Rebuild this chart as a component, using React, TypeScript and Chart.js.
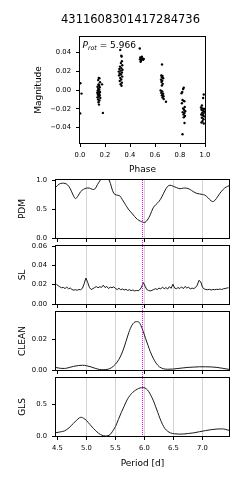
import React, { useEffect, useRef } from "react";
import { Chart, registerables } from "chart.js";

Chart.register(...registerables);

const W = 249;
const H = 480;
const FONT = "'DejaVu Sans', sans-serif";

const TITLE = "4311608301417284736";
const P_ROT = 5.966;

// ---- phase-folded light curve ----
const phaseValues = [
  0.003, 0.012, 0.002,
  0.150, 0.155, 0.145, 0.160, 0.148, 0.152, 0.140, 0.158, 0.146, 0.154, 0.142, 0.150, 0.160, 0.138, 0.147, 0.155, 0.143, 0.158, 0.150, 0.140, 0.162, 0.145, 0.155, 0.148, 0.152, 0.176, 0.183,
  0.322, 0.330, 0.333, 0.335, 0.327, 0.338, 0.320, 0.330, 0.315, 0.340, 0.325, 0.310, 0.335, 0.318, 0.328, 0.312, 0.338, 0.322, 0.330, 0.318, 0.335, 0.325, 0.332,
  0.478, 0.480, 0.485, 0.482, 0.490, 0.495, 0.500, 0.505, 0.510, 0.488,
  0.656, 0.650, 0.660, 0.655, 0.665, 0.648, 0.658, 0.652, 0.662, 0.655, 0.645, 0.658, 0.650, 0.665, 0.655, 0.668, 0.660, 0.670, 0.688,
  0.830, 0.825, 0.818, 0.812, 0.820, 0.828, 0.835, 0.815, 0.838, 0.825, 0.832, 0.842, 0.822, 0.835, 0.828, 0.840, 0.830, 0.836, 0.820,
  0.990, 0.985, 0.975, 0.968, 0.980, 0.992, 0.972, 0.985, 0.995, 0.978, 0.988, 0.970, 0.982, 0.993, 0.975, 0.988, 0.980, 0.972, 0.990,
];
const magValues = [
  0.0072, -0.0038, -0.0248,
  0.0128, 0.0125, 0.0105, 0.0082, 0.0060, 0.0048, 0.0035, 0.0030, 0.0015, 0.0005, -0.0005, -0.0012, -0.0020, -0.0028, -0.0035, -0.0042, -0.0050, -0.0058, -0.0068, -0.0078, -0.0085, -0.0100, -0.0112, -0.0130, -0.0155, 0.0060, -0.0243,
  0.0425, 0.0365, 0.0355, 0.0305, 0.0285, 0.0262, 0.0248, 0.0232, 0.0222, 0.0215, 0.0205, 0.0195, 0.0185, 0.0175, 0.0165, 0.0155, 0.0142, 0.0128, 0.0112, 0.0095, 0.0078, 0.0062, 0.0045,
  0.0440, 0.0325, 0.0300, 0.0345, 0.0330, 0.0352, 0.0335, 0.0320, 0.0330, 0.0310,
  0.0270, 0.0155, 0.0148, 0.0135, 0.0125, 0.0110, 0.0098, 0.0085, 0.0065, 0.0048, -0.0005, -0.0015, -0.0030, -0.0040, -0.0055, -0.0065, -0.0080, -0.0095, -0.0125,
  0.0025, 0.0010, -0.0020, -0.0035, -0.0105, -0.0115, -0.0120, -0.0140, -0.0180, -0.0195, -0.0210, -0.0225, -0.0235, -0.0245, -0.0260, -0.0275, -0.0290, -0.0350, -0.0470,
  -0.0048, -0.0085, -0.0165, -0.0185, -0.0195, -0.0200, -0.0210, -0.0220, -0.0230, -0.0240, -0.0250, -0.0260, -0.0268, -0.0280, -0.0295, -0.0310, -0.0330, -0.0345, -0.0355,
];
const phaseTicks = [0, 0.2, 0.4, 0.6, 0.8, 1.0];
const magTicks = [-0.04, -0.02, 0, 0.02, 0.04];
const magLimit = 0.0562;

// ---- periodograms ----
const periodMin = 4.4745;
const periodMax = 7.4575;
const periodTicks = [4.5, 5.0, 5.5, 6.0, 6.5, 7.0];

const pdmPeriods = [
  4.4745, 4.53, 4.58, 4.63, 4.67, 4.72, 4.77, 4.81, 4.85, 4.90, 4.95, 5.00, 5.05, 5.10, 5.14, 5.19, 5.24, 5.29, 5.34, 5.39,
  5.43, 5.47, 5.52, 5.57, 5.62, 5.67, 5.72, 5.78, 5.83, 5.88, 5.93, 5.98, 6.01, 6.05, 6.10, 6.15, 6.20, 6.25, 6.30, 6.35,
  6.40, 6.44, 6.50, 6.55, 6.61, 6.67, 6.72, 6.78, 6.84, 6.90, 6.95, 7.00, 7.04, 7.10, 7.15, 7.19, 7.24, 7.30, 7.36, 7.41, 7.4575,
];
const pdmValues = [
  0.88, 0.93, 0.945, 0.94, 0.92, 0.85, 0.74, 0.68, 0.72, 0.80, 0.84, 0.86, 0.86, 0.84, 0.84, 0.92, 1.0, 1.04, 1.04, 1.0,
  0.88, 0.77, 0.74, 0.73, 0.66, 0.58, 0.50, 0.43, 0.37, 0.32, 0.29, 0.27, 0.27, 0.31, 0.40, 0.52, 0.58, 0.63, 0.71, 0.81,
  0.89, 0.91, 0.89, 0.87, 0.85, 0.86, 0.86, 0.84, 0.80, 0.77, 0.76, 0.75, 0.74, 0.69, 0.64, 0.63, 0.68, 0.77, 0.84, 0.88, 0.90,
];
const pdmTicks = [0, 0.5, 1.0];

const slPeriods = [
  4.48, 4.51, 4.54, 4.57, 4.60, 4.63, 4.66, 4.69, 4.72, 4.75, 4.78, 4.81, 4.84, 4.87, 4.90, 4.93, 4.96, 4.99, 5.02, 5.05,
  5.08, 5.11, 5.14, 5.17, 5.20, 5.23, 5.26, 5.29, 5.32, 5.35, 5.38, 5.41, 5.44, 5.47, 5.50, 5.53, 5.56, 5.59, 5.62, 5.65,
  5.68, 5.71, 5.74, 5.77, 5.80, 5.83, 5.86, 5.89, 5.92, 5.95, 5.98, 6.01, 6.04, 6.07, 6.10, 6.13, 6.16, 6.19, 6.22, 6.25,
  6.28, 6.31, 6.34, 6.37, 6.40, 6.43, 6.46, 6.49, 6.52, 6.55, 6.58, 6.61, 6.64, 6.67, 6.70, 6.73, 6.76, 6.79, 6.82, 6.85,
  6.88, 6.91, 6.94, 6.97, 7.00, 7.03, 7.06, 7.09, 7.12, 7.15, 7.18, 7.21, 7.24, 7.27, 7.30, 7.33, 7.36, 7.39, 7.42, 7.45,
];
const slValues = [
  0.0205, 0.0190, 0.0178, 0.0168, 0.0172, 0.0160, 0.0175, 0.0158, 0.0165, 0.0150, 0.0143, 0.0148, 0.0142, 0.0150, 0.0148, 0.0162, 0.0210, 0.0268, 0.0225, 0.0172,
  0.0150, 0.0158, 0.0170, 0.0180, 0.0168, 0.0178, 0.0172, 0.0195, 0.0170, 0.0182, 0.0160, 0.0175, 0.0168, 0.0178, 0.0160, 0.0150, 0.0162, 0.0148, 0.0155, 0.0145,
  0.0152, 0.0140, 0.0148, 0.0138, 0.0145, 0.0135, 0.0140, 0.0138, 0.0148, 0.0175, 0.0222, 0.0185, 0.0150, 0.0140, 0.0135, 0.0142, 0.0150, 0.0158, 0.0150, 0.0165,
  0.0155, 0.0175, 0.0158, 0.0170, 0.0155, 0.0180, 0.0162, 0.0205, 0.0165, 0.0158, 0.0170, 0.0160, 0.0178, 0.0158, 0.0182, 0.0165, 0.0175, 0.0155, 0.0165, 0.0160,
  0.0170, 0.0195, 0.0245, 0.0230, 0.0175, 0.0155, 0.0150, 0.0148, 0.0152, 0.0145, 0.0150, 0.0148, 0.0152, 0.0150, 0.0155, 0.0150, 0.0157, 0.0160, 0.0165, 0.0168,
];
const slTicks = [0, 0.02, 0.04, 0.06];

const cleanPeriods = [
  4.4745, 4.55, 4.62, 4.70, 4.78, 4.86, 4.93, 5.00, 5.08, 5.15, 5.22, 5.30, 5.37, 5.43, 5.50, 5.56, 5.62, 5.68, 5.73, 5.78,
  5.82, 5.86, 5.90, 5.94, 5.98, 6.02, 6.06, 6.10, 6.15, 6.20, 6.26, 6.33, 6.40, 6.48, 6.56, 6.65, 6.75, 6.85, 6.95, 7.05,
  7.15, 7.25, 7.35, 7.4575,
];
const cleanValues = [
  0.0016, 0.0011, 0.0010, 0.0016, 0.0024, 0.0029, 0.0031, 0.0028, 0.0020, 0.0011, 0.0004, 0.0002, 0.0005, 0.0015, 0.0038, 0.0070, 0.0118, 0.0185, 0.0245, 0.0290,
  0.0310, 0.0316, 0.0314, 0.0290, 0.0250, 0.0205, 0.0162, 0.0120, 0.0078, 0.0045, 0.0020, 0.0008, 0.0005, 0.0006, 0.0009, 0.0013, 0.0017, 0.0019, 0.0021, 0.0021,
  0.0020, 0.0017, 0.0011, 0.0004,
];
const cleanTicks = [0, 0.02];
const cleanMax = 0.0379;

const glsPeriods = [
  4.4745, 4.55, 4.62, 4.70, 4.77, 4.83, 4.88, 4.91, 4.95, 5.00, 5.06, 5.12, 5.18, 5.24, 5.29, 5.33, 5.37, 5.41, 5.45, 5.50,
  5.55, 5.60, 5.65, 5.70, 5.75, 5.80, 5.85, 5.90, 5.95, 5.99, 6.03, 6.07, 6.11, 6.15, 6.19, 6.23, 6.27, 6.31, 6.35, 6.40,
  6.45, 6.52, 6.60, 6.68, 6.76, 6.85, 6.95, 7.05, 7.15, 7.25, 7.33, 7.40, 7.4575,
];
const glsValues = [
  0.052, 0.065, 0.080, 0.130, 0.195, 0.250, 0.288, 0.295, 0.280, 0.245, 0.180, 0.120, 0.065, 0.025, 0.005, 0.000, 0.004, 0.025, 0.075, 0.150,
  0.260, 0.370, 0.470, 0.570, 0.640, 0.690, 0.725, 0.750, 0.762, 0.762, 0.745, 0.705, 0.640, 0.565, 0.470, 0.370, 0.270, 0.185, 0.120, 0.075,
  0.048, 0.035, 0.030, 0.032, 0.040, 0.050, 0.068, 0.085, 0.100, 0.110, 0.112, 0.105, 0.088,
];
const glsTicks = [0, 0.5];
const glsMax = 0.915;

// ---- styling ----
const TICK_FONT = { family: FONT, size: 6.8 };
const LABEL_SIZE = 9;
const LABEL_FONT = { family: FONT, size: LABEL_SIZE };
const LH = LABEL_SIZE * 1.2;
const LINE_COLOR = "#1a1a1a";
const GRID_COLOR = "#d4d4d4";
const VLINE_COLOR = "#ff00ff";

type Area = { left: number; top: number; right: number; bottom: number };

const fmt = (v: number, d: number) => {
  const s = Math.abs(v).toFixed(d);
  return v < -1e-12 ? "\u2212" + s : s;
};

const framePlugin = {
  id: "frame",
  afterDatasetsDraw(chart: any, _args: any, opts: any) {
    const { left, top, right, bottom } = chart.chartArea;
    const ctx = chart.ctx;
    ctx.save();
    if (opts && typeof opts.vline === "number") {
      const x = Math.floor(chart.scales.x.getPixelForValue(opts.vline)) + 0.5;
      ctx.globalAlpha = 1;
      ctx.strokeStyle = VLINE_COLOR;
      ctx.lineWidth = 1;
      ctx.lineCap = "butt";
      ctx.setLineDash([1, 1]);
      ctx.beginPath();
      ctx.moveTo(x, Math.round(top));
      ctx.lineTo(x, Math.round(bottom + (opts.extend || 0)));
      ctx.stroke();
      ctx.setLineDash([]);
    }
    ctx.strokeStyle = "#000";
    ctx.lineWidth = 1;
    ctx.strokeRect(Math.round(left) - 0.5, Math.round(top) - 0.5, Math.round(right - left) + 1, Math.round(bottom - top) + 1);
    ctx.restore();
  },
};

const textPlugin = {
  id: "toptext",
  afterDraw(chart: any, _args: any, opts: any) {
    if (!opts || !opts.enabled) return;
    const ctx = chart.ctx;
    const { left, top } = chart.chartArea;
    ctx.save();
    ctx.fillStyle = "#000";
    ctx.font = `11.5px ${FONT}`;
    ctx.textAlign = "center";
    ctx.textBaseline = "middle";
    ctx.fillText(TITLE, 130.5, 20.5);
    ctx.textAlign = "left";
    ctx.textBaseline = "alphabetic";
    let x = left + 2.5;
    const y = top + 11;
    ctx.font = `italic 9px ${FONT}`;
    ctx.fillText("P", x, y);
    x += ctx.measureText("P").width;
    ctx.font = `italic 6.3px ${FONT}`;
    ctx.fillText("rot", x, y + 2);
    x += ctx.measureText("rot").width;
    ctx.font = `9px ${FONT}`;
    ctx.fillText(" = " + P_ROT.toFixed(3), x, y);
    ctx.restore();
  },
};

type PanelSpec = {
  area: Area;
  xMin: number;
  xMax: number;
  yMin: number;
  yMax: number;
  xTicks: number[];
  yTicks: number[];
  xDec: number;
  yDec: number;
  yTitle: string;
  yTitleX: number;
  xTitle?: string;
  xTitleY?: number;
  showXLabels: boolean;
  grid: boolean;
  vline?: number;
  extend?: number;
  topText?: boolean;
  datasets: any[];
};

function makeConfig(p: PanelSpec): any {
  return {
    data: { datasets: p.datasets },
    plugins: [framePlugin, textPlugin],
    options: {
      responsive: false,
      animation: false,
      devicePixelRatio: 1,
      events: [],
      layout: { padding: { left: 0, top: p.area.top, right: W - p.area.right, bottom: 0 } },
      plugins: {
        legend: { display: false },
        tooltip: { enabled: false },
        frame: { vline: p.vline ?? false, extend: p.extend ?? 0 },
        toptext: { enabled: !!p.topText },
      },
      scales: {
        x: {
          type: "linear",
          position: "bottom",
          min: p.xMin,
          max: p.xMax,
          bounds: "data",
          afterBuildTicks: (s: any) => {
            s.ticks = p.xTicks.map((v) => ({ value: v }));
          },
          afterFit: (s: any) => {
            s.height = H - p.area.bottom;
            s.paddingLeft = 0;
            s.paddingRight = 0;
          },
          ticks: {
            display: p.showXLabels,
            autoSkip: false,
            maxRotation: 0,
            font: TICK_FONT,
            color: "#000",
            padding: 4.5,
            callback: (v: any) => fmt(Number(v), p.xDec),
          },
          grid: {
            drawOnChartArea: p.grid,
            color: (c: any) => (c.tick && Math.abs(c.tick.value - 4.5) < 1e-9 ? "rgba(0,0,0,0)" : GRID_COLOR),
            lineWidth: 1,
            drawTicks: true,
            tickLength: 4,
            tickColor: "#000",
            tickWidth: 1,
          },
          border: { display: false },
          title: {
            display: !!p.xTitle,
            text: p.xTitle || "",
            font: LABEL_FONT,
            color: "#000",
            padding: { top: 0, bottom: p.xTitleY != null ? H - p.xTitleY - LH / 2 : 0 },
          },
        },
        y: {
          type: "linear",
          position: "left",
          min: p.yMin,
          max: p.yMax,
          bounds: "data",
          afterBuildTicks: (s: any) => {
            s.ticks = p.yTicks.map((v) => ({ value: v }));
          },
          afterFit: (s: any) => {
            s.width = p.area.left;
            s.paddingTop = 0;
            s.paddingBottom = 0;
          },
          ticks: {
            autoSkip: false,
            font: TICK_FONT,
            color: "#000",
            padding: 5,
            callback: (v: any) => fmt(Number(v), p.yDec),
          },
          grid: {
            drawOnChartArea: false,
            drawTicks: true,
            tickLength: 4,
            tickColor: "#000",
            tickWidth: 1,
          },
          border: { display: false },
          title: {
            display: true,
            text: p.yTitle,
            font: LABEL_FONT,
            color: "#000",
            padding: { top: p.yTitleX - LH / 2, bottom: 0 },
          },
        },
      },
    },
  };
}

const lineDataset = (xs: number[], ys: number[], tension: number, mono: boolean) => ({
  type: "line",
  data: xs.map((x, i) => ({ x, y: ys[i] })),
  borderColor: LINE_COLOR,
  borderWidth: 1,
  pointRadius: 0,
  fill: false,
  tension,
  cubicInterpolationMode: mono ? "monotone" : "default",
});

const LOWER_LEFT = 56;
const LOWER_RIGHT = 229;
const PANEL_TOPS = [180, 246, 312, 378];
const PANEL_H = 58;
const GAP = 8;
const YLABEL_X = 22.5;

const lowerArea = (i: number): Area => ({
  left: LOWER_LEFT,
  right: LOWER_RIGHT,
  top: PANEL_TOPS[i],
  bottom: PANEL_TOPS[i] + PANEL_H,
});

const specs: PanelSpec[] = [
  {
    area: { left: 80, right: 205, top: 37, bottom: 143 },
    xMin: 0,
    xMax: 1,
    yMin: -magLimit,
    yMax: magLimit,
    xTicks: phaseTicks,
    yTicks: magTicks,
    xDec: 1,
    yDec: 2,
    yTitle: "Magnitude",
    yTitleX: 38.5,
    xTitle: "Phase",
    xTitleY: 170,
    showXLabels: true,
    grid: false,
    topText: true,
    datasets: [
      {
        type: "scatter",
        data: phaseValues.map((x, i) => ({ x, y: magValues[i] })),
        backgroundColor: "#000",
        borderWidth: 0,
        pointRadius: 1.2,
      },
    ],
  },
  {
    area: lowerArea(0),
    xMin: periodMin,
    xMax: periodMax,
    yMin: 0,
    yMax: 1,
    xTicks: periodTicks,
    yTicks: pdmTicks,
    xDec: 1,
    yDec: 1,
    yTitle: "PDM",
    yTitleX: YLABEL_X,
    showXLabels: false,
    grid: true,
    vline: P_ROT,
    extend: GAP,
    datasets: [lineDataset(pdmPeriods, pdmValues, 0.35, false)],
  },
  {
    area: lowerArea(1),
    xMin: periodMin,
    xMax: periodMax,
    yMin: 0,
    yMax: 0.06,
    xTicks: periodTicks,
    yTicks: slTicks,
    xDec: 1,
    yDec: 2,
    yTitle: "SL",
    yTitleX: YLABEL_X,
    showXLabels: false,
    grid: true,
    vline: P_ROT,
    extend: GAP,
    datasets: [lineDataset(slPeriods, slValues, 0, false)],
  },
  {
    area: lowerArea(2),
    xMin: periodMin,
    xMax: periodMax,
    yMin: 0,
    yMax: cleanMax,
    xTicks: periodTicks,
    yTicks: cleanTicks,
    xDec: 1,
    yDec: 2,
    yTitle: "CLEAN",
    yTitleX: YLABEL_X,
    showXLabels: false,
    grid: true,
    vline: P_ROT,
    extend: GAP,
    datasets: [lineDataset(cleanPeriods, cleanValues, 0.4, true)],
  },
  {
    area: lowerArea(3),
    xMin: periodMin,
    xMax: periodMax,
    yMin: 0,
    yMax: glsMax,
    xTicks: periodTicks,
    yTicks: glsTicks,
    xDec: 1,
    yDec: 1,
    yTitle: "GLS",
    yTitleX: YLABEL_X,
    xTitle: "Period [d]",
    xTitleY: 464,
    showXLabels: true,
    grid: true,
    vline: P_ROT,
    extend: 0,
    datasets: [lineDataset(glsPeriods, glsValues, 0.4, true)],
  },
];

function Panel({ spec }: { spec: PanelSpec }) {
  const ref = useRef<HTMLCanvasElement | null>(null);
  useEffect(() => {
    if (!ref.current) return;
    const chart = new Chart(ref.current, makeConfig(spec));
    return () => chart.destroy();
  }, [spec]);
  return (
    <canvas
      ref={ref}
      width={W}
      height={H}
      style={{ position: "absolute", left: 0, top: 0, width: W, height: H, pointerEvents: "none" }}
    />
  );
}

export default function App() {
  return (
    <div style={{ position: "absolute", left: 0, top: 0, width: W, height: H, background: "#fff", overflow: "hidden" }}>
      {specs.map((s, i) => (
        <Panel key={i} spec={s} />
      ))}
    </div>
  );
}
